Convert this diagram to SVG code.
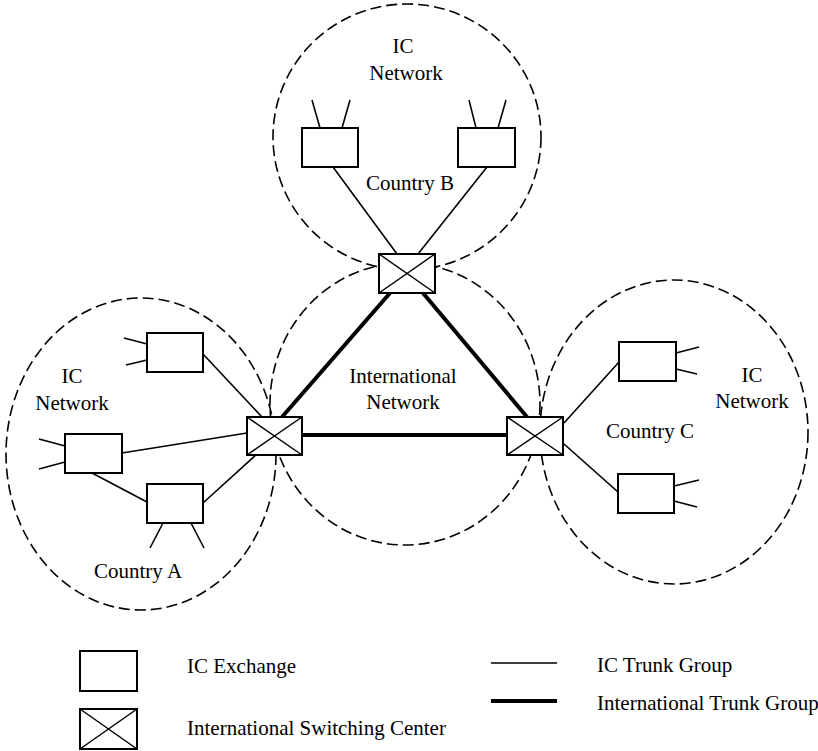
<svg xmlns="http://www.w3.org/2000/svg" width="818" height="751" viewBox="0 0 818 751">
  <style>
    .zone { fill: none; stroke: #000; stroke-width: 1.6; stroke-dasharray: 11 5; }
    .ex { fill: #fff; stroke: #000; stroke-width: 2; }
    .isc rect { fill: #fff; stroke: #000; stroke-width: 2; }
    .isc line { stroke: #000; stroke-width: 1.5; }
    .thin { stroke: #000; stroke-width: 1.6; fill: none; }
    .thick { stroke: #000; stroke-width: 4; fill: none; }
    text { font-family: "Liberation Serif", "Times New Roman", serif; font-size: 21px; fill: #000; }
    .c { text-anchor: middle; }
  </style>

  <!-- network areas -->
  <g id="areas">
    <ellipse class="zone" cx="407" cy="137" rx="134" ry="133"/>
    <ellipse class="zone" cx="141" cy="454" rx="135" ry="156"/>
    <ellipse class="zone" cx="405" cy="404" rx="135" ry="141"/>
    <ellipse class="zone" cx="674" cy="432" rx="134" ry="152"/>
  </g>

  <!-- trunk groups -->
  <g id="connectors">
    <!-- international trunk groups -->
    <line class="thick" x1="390" y1="293" x2="282" y2="417"/>
    <line class="thick" x1="423" y1="293" x2="527" y2="417"/>
    <line class="thick" x1="302" y1="435" x2="507" y2="435"/>
    <!-- country B -->
    <line class="thin" x1="333" y1="167" x2="397" y2="254"/>
    <line class="thin" x1="487" y1="167" x2="418" y2="254"/>
    <line class="thin" x1="320" y1="128" x2="312" y2="100"/>
    <line class="thin" x1="342" y1="128" x2="350" y2="100"/>
    <line class="thin" x1="476" y1="128" x2="469" y2="100"/>
    <line class="thin" x1="498" y1="128" x2="506" y2="100"/>
    <!-- country A -->
    <line class="thin" x1="203" y1="354" x2="262" y2="417"/>
    <line class="thin" x1="122" y1="453" x2="247" y2="433"/>
    <line class="thin" x1="92" y1="473" x2="147" y2="502"/>
    <line class="thin" x1="203" y1="503" x2="257" y2="454"/>
    <line class="thin" x1="147" y1="344" x2="124" y2="338"/>
    <line class="thin" x1="147" y1="360" x2="126" y2="365"/>
    <line class="thin" x1="65" y1="446" x2="39" y2="439"/>
    <line class="thin" x1="65" y1="462" x2="39" y2="469"/>
    <line class="thin" x1="163" y1="523" x2="150" y2="548"/>
    <line class="thin" x1="191" y1="523" x2="204" y2="548"/>
    <!-- country C -->
    <line class="thin" x1="564" y1="423" x2="619" y2="362"/>
    <line class="thin" x1="564" y1="444" x2="618" y2="492"/>
    <line class="thin" x1="676" y1="353" x2="699" y2="347"/>
    <line class="thin" x1="676" y1="369" x2="697" y2="374"/>
    <line class="thin" x1="674" y1="486" x2="699" y2="480"/>
    <line class="thin" x1="674" y1="501" x2="697" y2="507"/>
  </g>

  <!-- IC exchanges -->
  <g id="exB1"><rect class="ex" x="302" y="128" width="56" height="39"/></g>
  <g id="exB2"><rect class="ex" x="458" y="128" width="57" height="39"/></g>
  <g id="exA1"><rect class="ex" x="147" y="333" width="56" height="39"/></g>
  <g id="exA2"><rect class="ex" x="65" y="434" width="57" height="39"/></g>
  <g id="exA3"><rect class="ex" x="147" y="484" width="56" height="39"/></g>
  <g id="exC1"><rect class="ex" x="619" y="342" width="57" height="39"/></g>
  <g id="exC2"><rect class="ex" x="618" y="474" width="56" height="39"/></g>

  <!-- international switching centers -->
  <g id="iscB" class="isc">
    <rect x="379" y="254" width="56" height="39"/>
    <line x1="379" y1="254" x2="435" y2="293"/>
    <line x1="435" y1="254" x2="379" y2="293"/>
  </g>
  <g id="iscA" class="isc">
    <rect x="247" y="417" width="55" height="38"/>
    <line x1="247" y1="417" x2="302" y2="455"/>
    <line x1="302" y1="417" x2="247" y2="455"/>
  </g>
  <g id="iscC" class="isc">
    <rect x="507" y="417" width="56" height="38"/>
    <line x1="507" y1="417" x2="563" y2="455"/>
    <line x1="563" y1="417" x2="507" y2="455"/>
  </g>

  <!-- labels -->
  <g id="labels">
    <text class="c" x="403" y="53">IC</text>
    <text class="c" x="406" y="80">Network</text>
    <text class="c" x="410" y="190">Country B</text>
    <text class="c" x="72" y="383">IC</text>
    <text class="c" x="72" y="410">Network</text>
    <text class="c" x="138" y="578">Country A</text>
    <text class="c" x="403" y="383">International</text>
    <text class="c" x="403" y="409">Network</text>
    <text class="c" x="752" y="382">IC</text>
    <text class="c" x="752" y="408">Network</text>
    <text class="c" x="650" y="438">Country C</text>
  </g>

  <!-- legend -->
  <g id="legend">
    <rect class="ex" x="80" y="651" width="57" height="40"/>
    <g class="isc">
      <rect x="80" y="709" width="57" height="40"/>
      <line x1="80" y1="709" x2="137" y2="749"/>
      <line x1="137" y1="709" x2="80" y2="749"/>
    </g>
    <text x="187" y="673">IC Exchange</text>
    <text x="187" y="735">International Switching Center</text>
    <line class="thin" x1="491" y1="663" x2="557" y2="663"/>
    <line class="thick" x1="491" y1="701" x2="557" y2="701"/>
    <text x="597" y="672">IC Trunk Group</text>
    <text x="597" y="710">International Trunk Group</text>
  </g>
</svg>
